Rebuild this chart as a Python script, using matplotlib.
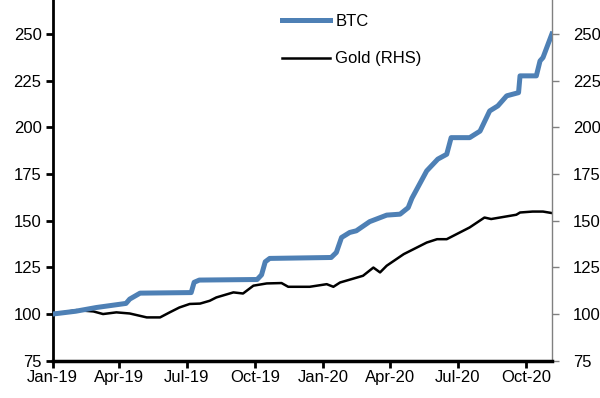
import matplotlib
matplotlib.use('Agg')
import matplotlib.pyplot as plt
import matplotlib.dates as mdates
import pandas as pd

# BTC series
btc_dates = ['2019-01-01', '2019-02-01', '2019-03-01', '2019-04-01', '2019-04-10',
             '2019-04-15', '2019-04-29', '2019-07-07', '2019-07-11', '2019-07-18',
             '2019-10-04', '2019-10-10', '2019-10-15', '2019-10-21', '2020-01-12',
             '2020-01-19', '2020-01-26', '2020-02-06', '2020-02-15', '2020-03-04',
             '2020-03-27', '2020-04-14', '2020-04-25', '2020-04-30', '2020-05-20',
             '2020-06-04', '2020-06-16', '2020-06-22', '2020-07-17', '2020-07-31',
             '2020-08-13', '2020-08-24', '2020-09-05', '2020-09-21', '2020-09-23',
             '2020-10-15', '2020-10-20', '2020-10-24', '2020-11-05']
btc_vals = [100, 101.5, 103.5, 105.2, 105.7,
            108, 111.2, 111.5, 117, 118.2,
            118.5, 121, 128, 129.8, 130.3,
            133, 141, 143.7, 144.6, 149.5,
            153, 153.5, 157, 162, 176.7,
            183, 185.6, 194.5, 194.5, 198,
            208.8, 211.5, 216.9, 218.6, 227.6,
            227.6, 235.6, 237.4, 250]

# Gold series (RHS)
gold_dates = ['2019-01-01', '2019-02-02', '2019-02-25', '2019-03-10', '2019-03-28',
              '2019-04-15', '2019-05-08', '2019-05-26', '2019-06-08', '2019-06-21',
              '2019-07-05', '2019-07-19', '2019-08-01', '2019-08-10', '2019-09-02',
              '2019-09-15', '2019-09-29', '2019-10-17', '2019-11-06', '2019-11-15',
              '2019-12-14', '2020-01-06', '2020-01-15', '2020-01-24', '2020-02-24',
              '2020-03-09', '2020-03-18', '2020-03-27', '2020-04-19', '2020-05-20',
              '2020-06-03', '2020-06-16', '2020-07-17', '2020-08-06', '2020-08-15',
              '2020-09-18', '2020-09-23', '2020-10-10', '2020-10-24', '2020-11-05']
gold_vals = [100, 102.1, 101.4, 100.0, 100.9,
             100.3, 98.2, 98.2, 100.9, 103.5,
             105.4, 105.6, 107.1, 108.9, 111.6,
             111.0, 115.2, 116.4, 116.6, 114.6,
             114.6, 116.0, 114.6, 116.9, 120.5,
             124.9, 122.3, 125.9, 132.1, 138.3,
             140.1, 140.1, 146.4, 151.7, 150.9,
             153.2, 154.4, 154.9, 154.9, 154.1]

xtick_dates = ['2019-01-01', '2019-04-01', '2019-07-01', '2019-10-01',
               '2020-01-01', '2020-04-01', '2020-07-01', '2020-10-01']

plt.rcParams['font.family'] = ['Liberation Sans', 'DejaVu Sans']
plt.rcParams['font.size'] = 12

fig = plt.figure(figsize=(6, 3.98), dpi=100)
ax = fig.add_axes([0.0878, 0.0937, 0.832, 0.938])
ax2 = ax.twinx()

l1, = ax.plot(pd.to_datetime(btc_dates), btc_vals, color='#4e80b5', lw=3.6,
              solid_joinstyle='round', label='BTC', zorder=3)
l2, = ax2.plot(pd.to_datetime(gold_dates), gold_vals, color='black', lw=1.8,
               label='Gold (RHS)')
ax.set_zorder(ax2.get_zorder() + 1)
ax.patch.set_visible(False)

for a in (ax, ax2):
    a.set_ylim(75, 275)
    a.set_yticks(range(75, 276, 25))
    a.set_xlim(pd.Timestamp('2019-01-01'), pd.Timestamp('2020-11-05'))
    a.spines['top'].set_visible(False)

ax.set_xticks(pd.to_datetime(xtick_dates))
ax.xaxis.set_major_formatter(mdates.DateFormatter('%b-%y'))

ax.spines['left'].set_linewidth(2)
ax.spines['bottom'].set_linewidth(2.5)
ax.spines['right'].set_visible(False)
ax2.spines['left'].set_visible(False)
ax2.spines['bottom'].set_visible(False)
ax2.spines['right'].set_color('#808080')
ax2.spines['right'].set_linewidth(1)

ax.tick_params(axis='y', length=5, width=2, pad=3)
ax.tick_params(axis='x', length=5, width=2, pad=2)
ax2.tick_params(axis='y', length=5, width=1, color='#808080', pad=10)

fig.legend([l1, l2], ['BTC', 'Gold (RHS)'], loc='upper left',
           bbox_to_anchor=(0.47, 0.964), frameon=False, borderpad=0,
           borderaxespad=0, handlelength=2.9, handletextpad=0.3,
           labelspacing=1.33, fontsize=12)

fig.savefig('out.png', dpi=100)
